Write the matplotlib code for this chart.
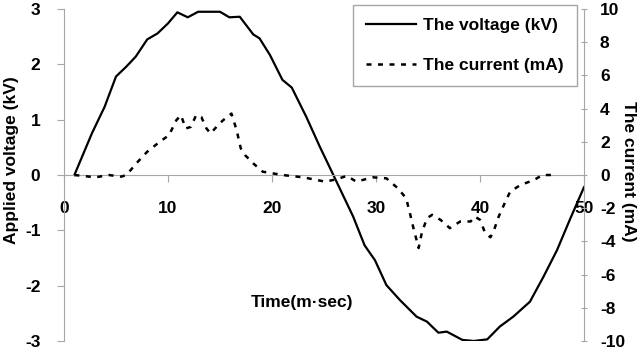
import matplotlib

matplotlib.use("Agg")
import matplotlib.pyplot as plt

plt.rcParams.update({
    "font.family": ["Liberation Sans", "DejaVu Sans"],
    "font.weight": "bold",
    "axes.labelweight": "bold",
    "font.size": 12.5,
    "axes.unicode_minus": False,
})

# applied voltage (kV) vs time (ms)
t_volt = [1, 2.7, 3.9, 5.0, 6.0, 6.9, 8.0, 9.0, 10.0, 10.9, 11.9, 12.9, 15.0, 15.9,
          16.9, 18.2, 18.8, 19.8, 21.0, 21.9, 23.3, 24.6, 25.9, 27.8, 28.9, 29.9,
          31.0, 32.3, 33.9, 34.9, 36.0, 36.8, 38.3, 39.4, 40.7, 41.9, 43.2, 44.8,
          46.1, 47.4, 48.7, 50.0]
voltage = [0, 0.76, 1.23, 1.78, 1.96, 2.14, 2.45, 2.56, 2.74, 2.94, 2.85, 2.95, 2.95,
           2.85, 2.86, 2.54, 2.47, 2.17, 1.72, 1.58, 1.05, 0.51, 0.0, -0.75, -1.27,
           -1.54, -1.99, -2.26, -2.56, -2.65, -2.85, -2.83, -2.98, -3.0, -2.97, -2.74,
           -2.56, -2.29, -1.84, -1.36, -0.78, -0.22]

# discharge current (mA) vs time (ms)
t_curr = [1, 3.05, 4.3, 5.5, 6.0, 7.1, 8.0, 9.2, 10.1, 10.8, 11.25, 11.7, 12.2, 12.7,
          13.2, 13.7, 14.1, 14.8, 15.3, 16.1, 16.6, 17.0, 17.4, 18.2, 19.1, 21.0,
          23.0, 25.1, 26.2, 27.2, 28.1, 29.7, 31.0, 32.1, 32.9, 33.3, 33.6, 34.1,
          34.4, 34.9, 35.4, 36.2, 37.1, 38.1, 39.1, 39.5, 40.0, 40.5, 41.0, 41.3,
          41.8, 42.3, 42.9, 43.9, 45.2, 46.0, 47.4]
current = [0, -0.14, 0, -0.1, 0, 0.8, 1.4, 2.0, 2.4, 3.3, 3.6, 2.8, 2.9, 3.6, 3.5,
           2.8, 2.5, 3.0, 3.3, 3.7, 2.7, 1.6, 1.2, 0.7, 0.2, 0, -0.14, -0.4, -0.26,
           -0.05, -0.4, -0.14, -0.2, -0.8, -1.4, -2.4, -3.2, -4.4, -3.5, -2.6, -2.4,
           -2.7, -3.2, -2.8, -2.8, -2.5, -2.7, -3.5, -3.75, -3.4, -2.5, -1.8, -1.0,
           -0.6, -0.3, 0, 0]

GREY = "#a6a6a6"

fig = plt.figure(figsize=(6.4, 3.5), dpi=100)
ax = fig.add_axes([64 / 640, 9 / 350, 520 / 640, 332 / 350])
ax2 = ax.twinx()

l1, = ax.plot(t_volt, voltage, color="k", lw=1.6, label="The voltage (kV)")
l2, = ax2.plot(t_curr, current, color="k", lw=1.8, ls=(0, (2.0, 2.6)),
               label="The current (mA)")

ax.set_xlim(0, 50)
ax.set_ylim(-3, 3)
ax2.set_ylim(-10, 10)
ax.set_xticks(range(0, 51, 10))
ax.set_yticks(range(-3, 4))
ax2.set_yticks(range(-10, 11, 2))

for a in (ax, ax2):
    a.spines["top"].set_visible(False)
    for s in a.spines.values():
        s.set_color(GREY)
    for lab in a.get_xticklabels() + a.get_yticklabels():
        lab.set_fontweight("bold")
ax.spines["right"].set_visible(False)
ax2.spines["left"].set_visible(False)
ax2.spines["bottom"].set_visible(False)
ax.spines["bottom"].set_position(("data", 0))

ax.tick_params(axis="x", colors=GREY, labelcolor="k", length=5, pad=14)
ax.tick_params(axis="y", colors=GREY, labelcolor="k", length=5, pad=12)
ax2.tick_params(axis="y", colors=GREY, labelcolor="k", length=5, direction="inout", pad=9)

ax.set_ylabel("Applied voltage (kV)", va="center")
ax.yaxis.set_label_coords(-0.1, 0.545)
ax2.set_ylabel("The current (mA)", rotation=270, va="center")
ax2.yaxis.set_label_coords(1.085, 0.51)
ax.text(22.9, -2.3, "Time(m·sec)", ha="center", va="center", fontweight="bold")

leg = fig.legend(handles=[l1, l2], loc="upper right",
                 bbox_to_anchor=(577 / 640, 345 / 350), fancybox=False,
                 framealpha=1, edgecolor=GREY, handlelength=2.9,
                 handletextpad=0.4, borderaxespad=0, borderpad=0.75,
                 labelspacing=1.4, prop={"weight": "bold", "size": 12.5})
leg.get_frame().set_linewidth(1.0)

fig.savefig("out.png", dpi=100)
